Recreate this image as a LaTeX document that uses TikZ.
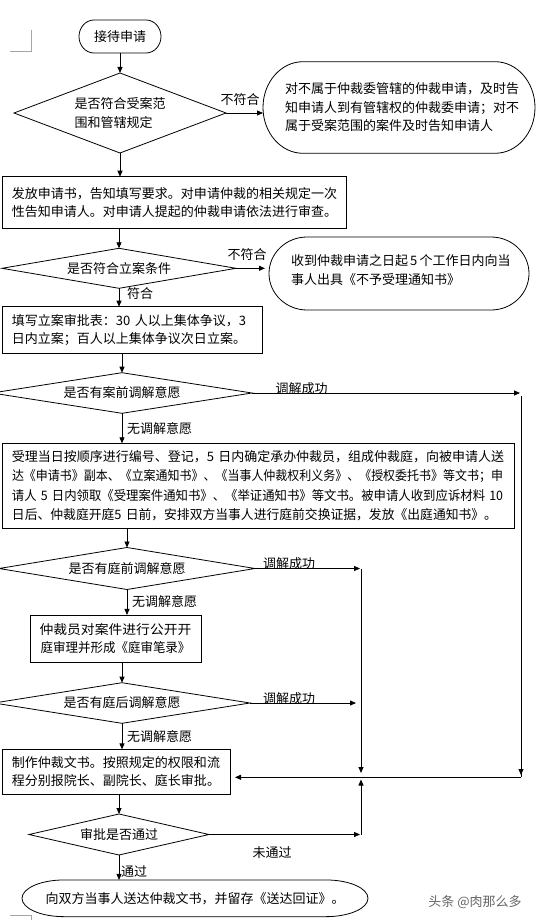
\documentclass[tikz,border=0pt]{standalone}
\usepackage{fontspec}
\setmainfont{Noto Sans CJK SC}
\usepackage{graphicx}
\usetikzlibrary{shapes.geometric,arrows.meta,calc}

\newcommand{\stadium}[3]{%
  \draw[shp] ($(#1.north west)+(#2,0)$) -- ($(#1.north east)+(-#2,0)$)
    arc[start angle=90,end angle=-90,x radius=#2,y radius=#3]
    -- ($(#1.south west)+(#2,0)$)
    arc[start angle=270,end angle=90,x radius=#2,y radius=#3] -- cycle;}
\newcommand{\fitw}[2]{\resizebox{#1}{\height}{#2}}

\begin{document}
\begin{tikzpicture}[x=1pt,y=1pt,
  every node/.style={font=\fontsize{13pt}{18.5pt}\selectfont, inner sep=0pt, outer sep=0pt},
  shp/.style={draw=black, line width=0.8pt},
  box/.style={shp, rectangle, align=left, inner xsep=10pt, inner ysep=0pt},
  cbox/.style={shp, rectangle, align=center, inner sep=0pt},
  dia/.style={shp, diamond, inner sep=0pt},
  term/.style={rectangle, inner sep=0pt},
  lab/.style={inner sep=0pt},
  arr/.style={line width=0.8pt, -{Triangle[length=6pt,width=5pt]}},
  cornermark/.style={draw=black!35, line width=0.8pt},
  wm/.style={text=black!60}
]
\useasboundingbox (0,0) rectangle (537,-920);
\fill[white] (0,0) rectangle (537,-920);
\clip (0,0) rectangle (537,-920);

% corner marks
\draw[cornermark] (10,-51.7) -- (31,-51.7) -- (31,-30);
\draw[cornermark] (10,-915) -- (31,-915) -- (31,-921);

% start
\node[term, minimum width=82pt, minimum height=33pt] (start) at (120,-36.5) {接待申请};
\stadium{start}{15}{16.5}

% decision 1
\node[dia, minimum width=212pt, minimum height=80pt, aspect=2.65, align=left] (d1) at (120,-113)
  {是否符合受案范\\围和管辖规定};

% ellipse 1
\node[term, minimum width=272pt, minimum height=91.6pt, text width=228pt, inner xsep=22pt, align=left] (ell1) at (399,-107.5)
  {对不属于仲裁委管辖的仲裁申请，及时告\\知申请人到有管辖权的仲裁委申请；对不\\属于受案范围的案件及时告知申请人};
\stadium{ell1}{40}{45.8}

% box 2
\node[box, minimum width=344pt, minimum height=51.6pt, text width=324pt] (b2) at (174,-202.5)
  {发放申请书，告知填写要求。对申请仲裁的相关规定一次\\性告知申请人。对申请人提起的仲裁申请依法进行审查。};

% decision 2
\node[dia, minimum width=234pt, minimum height=40pt, aspect=5.85] (d2) at (119,-268.3) {是否符合立案条件};

% ellipse 2
\node[term, minimum width=260pt, minimum height=73pt] (ell2) at (399,-273.5) {};
\stadium{ell2}{38}{36.5}
\node[lab, anchor=west, align=left] (ell2t) at (291,-270)
  {收到仲裁申请之日起\,5\,个工作日内向当\\事人出具《不予受理通知书》};

% box 3
\node[box, minimum width=260pt, minimum height=46.6pt, text width=240pt] (b3) at (132,-330)
  {填写立案审批表：30~人以上集体争议，3\\日内立案；百人以上集体争议次日立案。};

% decision 3
\node[dia, minimum width=260pt, minimum height=40.6pt, aspect=6.4] (d3) at (122,-393) {是否有案前调解意愿};

% box 4
\node[box, minimum width=512pt, minimum height=85pt, text width=492pt, font=\fontsize{13pt}{19.4pt}\selectfont] (b4) at (258,-485.8)
  {\fitw{492pt}{受理当日按顺序进行编号、登记，5~日内确定承办仲裁员，组成仲裁庭，向被申请人送}\\
   \fitw{491pt}{达《申请书》副本、《立案通知书》、《当事人仲裁权利义务》、《授权委托书》等文书；申}\\
   \fitw{491pt}{请人~5~日内领取《受理案件通知书》、《举证通知书》等文书。被申请人收到应诉材料~10}\\
   \fitw{485pt}{日后、仲裁庭开庭5~日前，安排双方当事人进行庭前交换证据，发放《出庭通知书》。}};

% decision 4
\node[dia, minimum width=256pt, minimum height=42pt, aspect=6.1] (d4) at (127,-568.5) {是否有庭前调解意愿};

% box 5
\node[cbox, minimum width=171pt, minimum height=47.7pt] (b5) at (115.5,-638.8)
  {\fitw{152pt}{仲裁员对案件进行公开开}\\\fitw{150pt}{庭审理并形成《庭审笔录》}};

% decision 5
\node[dia, minimum width=256pt, minimum height=40.6pt, aspect=6.3] (d5) at (122,-703) {是否有庭后调解意愿};

% box 6
\node[box, minimum width=228pt, minimum height=44.7pt, text width=208pt] (b6) at (116,-771.7)
  {制作仲裁文书。按照规定的权限和流\\程分别报院长、副院长、庭长审批。};

% decision 7
\node[dia, minimum width=180pt, minimum height=41pt, aspect=4.4] (d7) at (119,-834.5) {审批是否通过};

% final
\node[term, minimum width=346pt, minimum height=36.7pt] (fin) at (195,-898.3)
  {向双方当事人送达仲裁文书，并留存《送达回证》。};
\stadium{fin}{42}{18.35}

% watermark
\node[wm] (wm) at (475,-902) {头条 @肉那么多};

% helper coordinates
\coordinate (rt) at (520,-393);
\coordinate (rt2) at (521,-396);
\coordinate (rb) at (521,-775);
\coordinate (rb2) at (521,-777.3);
\coordinate (mt) at (361,-568.5);
\coordinate (mb) at (361,-773);
\coordinate (ml) at (361,-834.5);
\coordinate (mu) at (361,-779.5);

% connectors
\draw[arr] (start) -- (d1.north);
\draw[arr] (d1.east) -- (d1.east -| ell1.west);
\draw[arr] (d1.south) -- (d1.south |- b2.north);
\draw[arr] (b2.south -| d2.north) -- (d2.north);
\draw[arr, shorten >=4pt] (d2.east) -- (d2.east -| ell2.west);
\draw[arr] (d2.south) -- (d2.south |- b3.north);
\draw[arr] (b3.south -| d3.north) -- (d3.north);
\draw[arr] (d3.east) -- (rt);
\draw[line width=0.8pt] (rt2) -- (rb2);
\draw[arr] (rt2) -- (rb);
\draw[arr, shorten >=5pt] (rb2) -- (rb2 -| b6.east);
\draw[arr] (d3.south) -- (d3.south |- b4.north);
\draw[arr] (b4.south -| d4.north) -- (d4.north);
\draw[arr, shorten >=1pt] (d4.east) -- (mt);
\draw[arr] (mt) -- (mb);
\draw[arr] (d4.south) -- (d4.south |- b5.north);
\draw[arr] (b5.south -| d5.north) -- (d5.north);
\draw[arr, shorten >=5pt] (d5.east) -- (d5.east -| mt);
\draw[arr] (d5.south) -- (d5.south |- b6.north);
\draw[arr] (b6.south -| d7.north) -- (d7.north);
\draw[arr, shorten >=1pt] (d7.east) -- (ml);
\draw[arr] (ml) -- (mu);
\draw[arr] (d7.south) -- (d7.south |- fin.north);

% labels
\node[lab] (l1) at (240,-100) {不符合};
\node[lab] (l2) at (247,-255) {不符合};
\node[lab, anchor=west] (l3) at (127,-293.3) {符合};
\node[lab] (l4) at (301.5,-388.5) {调解成功};
\node[lab, anchor=west] (l5) at (127,-428.3) {无调解意愿};
\node[lab] (l6) at (289,-564) {调解成功};
\node[lab, anchor=west] (l7) at (132,-601.7) {无调解意愿};
\node[lab] (l8) at (289,-698.5) {调解成功};
\node[lab, anchor=west] (l9) at (127,-736.7) {无调解意愿};
\node[lab] (l10) at (272,-853) {未通过};
\node[lab, anchor=west] (l11) at (121,-871.7) {通过};
\end{tikzpicture}
\end{document}
